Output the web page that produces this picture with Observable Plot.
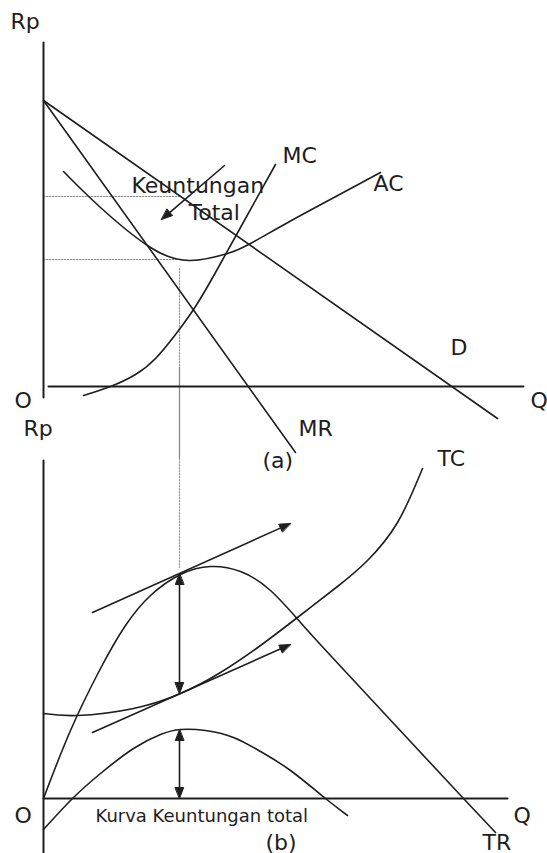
<!DOCTYPE html>
<html><head><meta charset="utf-8">
<script src="https://cdn.jsdelivr.net/npm/d3@7"></script>
<script src="https://cdn.jsdelivr.net/npm/@observablehq/plot@0.6"></script>
<style>html,body{margin:0;padding:0;background:#fff;} svg{display:block}</style>
</head><body><div id="chart"></div>
<script>
// ===== Panel (a): price / cost (Rp) against quantity (Q) =====
const axisA_vertical   = [[0, 8.6], [0, -0.275]];
const axisA_horizontal = [[0.125, 0], [12, 0]];
const demandD          = [[0, 7.15], [11.35, -0.8]];
const marginalRevenueMR = [[0, 7.15], [6.3, -1.65]];
const marginalCostMC   = [[1.0,-0.225],[1.675,0],[2.3,0.3],[2.8,0.7],[3.3,1.3],[3.8,2.0],[4.3,2.85],[4.925,3.975],[5.8,5.55]];
const averageCostAC    = [[0.5,5.375],[1.425,4.475],[2.675,3.475],[3.675,3.15],[4.6,3.325],[5.175,3.575],[6.425,4.275],[8.425,5.35]];
const priceGuide       = [[0,4.75],[3.4,4.75]];
const costGuide        = [[0,3.175],[3.4,3.175]];
const qStarDottedA     = [[3.4,2.95],[3.4,0.475]];
const qStarSolidA      = [[3.4,0.475],[3.4,-1.8]];
const profitArrowA     = {from:[4.525,5.525], to:[2.95,4.175], heads:["end"]};
const labelsA = [
  {text:"Rp", q:-0.825, v:9.125},
  {text:"O",  q:-0.725, v:-0.35},
  {text:"Q",  q:12.175, v:-0.35},
  {text:"MC", q:5.975,  v:5.775},
  {text:"AC", q:8.25,   v:5.075},
  {text:"Keuntungan", q:2.2, v:5.025},
  {text:"Total", q:3.625, v:4.35},
  {text:"D",  q:10.175, v:0.975},
  {text:"MR", q:6.375,  v:-1.05},
  {text:"(a)", q:5.475, v:-1.85}
];

// ===== Panel (b): totals (Rp) against quantity (Q) =====
const axisB_vertical   = [[0, 8.45], [0, -1.35]];
const axisB_horizontal = [[0, 0], [11.6, 0]];
const totalCostTC      = [[0,2.125],[0.85,2.075],[2.25,2.25],[3.425,2.625],[4.425,3.15],[5.425,3.825],[6.35,4.525],[7.35,5.3],[8.1,5.95],[8.85,6.9],[9.475,8.25]];
const totalRevenueTR   = [[0,0],[0.675,1.7],[1.425,3.25],[2.05,4.325],[2.675,5.075],[3.425,5.6],[4.175,5.8],[4.925,5.675],[5.675,5.2],[6.425,4.4],[7.175,3.575],[8.8,1.825],[10.5,0],[11.3,-0.85]];
const totalProfit      = [[0,-0.775],[0.725,0],[1.425,0.625],[2.25,1.25],[2.925,1.6],[3.425,1.725],[4.05,1.7],[4.75,1.525],[5.425,1.175],[6.175,0.7],[7.05,0],[7.6,-0.425]];
const qStarDottedB     = [[3.4,8.5],[3.4,5.775]];
const arrowsB = [
  {from:[1.225,4.65], to:[6.175,6.875], heads:["end"]},
  {from:[1.225,1.65], to:[6.175,3.85],  heads:["end"]},
  {from:[3.4,5.625],  to:[3.4,2.625],   heads:["start","end"]},
  {from:[3.4,1.725],  to:[3.4,0],       heads:["start","end"]}
];
const labelsB = [
  {text:"Rp", q:-0.5,   v:9.25},
  {text:"O",  q:-0.725, v:-0.425},
  {text:"Q",  q:11.75,  v:-0.425},
  {text:"TC", q:9.85,   v:8.5},
  {text:"TR", q:10.975, v:-1.1},
  {text:"(b)", q:5.55,  v:-1.1}
];
const captionB = [{text:"Kurva Keuntungan total", q:1.3, v:-0.45}];

// panel (b) sits below panel (a): shift its value axis
const B_OFFSET = 10.3;
const lowerPt = ([q, v]) => [q, v - B_OFFSET];
const lower = pts => pts.map(lowerPt);
const lowerLabels = arr => arr.map(d => ({...d, v: d.v - B_OFFSET}));
const lowerArrow = a => ({...a, from: lowerPt(a.from), to: lowerPt(a.to)});

// arrowheads as filled triangles (x and y share the same pixels per unit)
const HEAD_L = 11/40, HEAD_W = 4.2/40;
function headTri(tip, tail, id) {
  const dx = tip[0]-tail[0], dy = tip[1]-tail[1], n = Math.hypot(dx, dy);
  const ux = dx/n, uy = dy/n, bx = tip[0]-ux*HEAD_L, by = tip[1]-uy*HEAD_L;
  return [
    {id, q: tip[0], v: tip[1]},
    {id, q: bx - uy*HEAD_W, v: by + ux*HEAD_W},
    {id, q: bx + uy*HEAD_W, v: by - ux*HEAD_W}
  ];
}
const allArrows = [profitArrowA, ...arrowsB.map(lowerArrow)];
const shafts = [], heads = [];
allArrows.forEach((a, i) => {
  let s = a.from.slice(), e = a.to.slice();
  const dx = e[0]-s[0], dy = e[1]-s[1], n = Math.hypot(dx, dy);
  const ux = dx/n, uy = dy/n;
  if (a.heads.includes("end")) { heads.push(...headTri(a.to, a.from, "e"+i)); e = [e[0]-ux*HEAD_L*0.8, e[1]-uy*HEAD_L*0.8]; }
  if (a.heads.includes("start")) { heads.push(...headTri(a.from, a.to, "s"+i)); s = [s[0]+ux*HEAD_L*0.8, s[1]+uy*HEAD_L*0.8]; }
  shafts.push({id:i, q:s[0], v:s[1]}, {id:i, q:e[0], v:e[1]});
});

const ink = "#1e1e1e";
const seg = (pts, opts = {}) => Plot.line(pts, {x: d => d[0], y: d => d[1], stroke: ink, strokeWidth: 1.6, ...opts});
const curve = (pts, opts = {}) => seg(pts, {curve: "natural", ...opts});
const font = "DejaVu Sans, Verdana, sans-serif";

const chart = Plot.plot({
  width: 547, height: 853, margin: 0,
  x: {domain: [0, 12], range: [43, 523], axis: null},
  y: {domain: [0, 8.6], range: [386, 42], axis: null},
  style: {fontFamily: font, background: "#fff", overflow: "visible"},
  marks: [
    // guides
    seg(priceGuide, {stroke: "#888", strokeWidth: 1, strokeDasharray: "1.5,1.5"}),
    seg(costGuide, {stroke: "#888", strokeWidth: 1, strokeDasharray: "1.5,1.5"}),
    seg(qStarDottedA, {stroke: "#999", strokeWidth: 1.2, strokeDasharray: "1.5,1.5"}),
    seg(qStarSolidA, {stroke: "#888", strokeWidth: 1.3}),
    seg(lower(qStarDottedB), {stroke: "#999", strokeWidth: 1.2, strokeDasharray: "1.5,1.5"}),
    // axes
    seg(axisA_vertical, {strokeWidth: 2}),
    seg(axisA_horizontal, {strokeWidth: 2}),
    seg(lower(axisB_vertical), {strokeWidth: 2}),
    seg(lower(axisB_horizontal), {strokeWidth: 2}),
    // panel a curves
    seg(demandD),
    seg(marginalRevenueMR),
    curve(marginalCostMC),
    curve(averageCostAC),
    // panel b curves
    curve(lower(totalCostTC)),
    curve(lower(totalRevenueTR)),
    curve(lower(totalProfit)),
    // arrows
    Plot.line(shafts, {x: "q", y: "v", z: "id", stroke: ink, strokeWidth: 1.6}),
    Plot.line(heads, {x: "q", y: "v", z: "id", fill: ink, stroke: ink, strokeWidth: 1, curve: "linear-closed"}),
    // labels
    Plot.text(labelsA, {x: "q", y: "v", text: "text", textAnchor: "start", lineAnchor: "middle", fontSize: 22, fill: ink}),
    Plot.text(lowerLabels(labelsB), {x: "q", y: "v", text: "text", textAnchor: "start", lineAnchor: "middle", fontSize: 22, fill: ink}),
    Plot.text(lowerLabels(captionB), {x: "q", y: "v", text: "text", textAnchor: "start", lineAnchor: "middle", fontSize: 18, fill: ink})
  ]
});
document.getElementById("chart").appendChild(chart);
</script>
</body></html>
